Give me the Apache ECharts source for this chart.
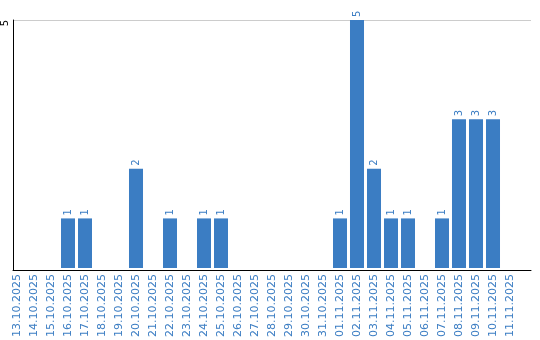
<!DOCTYPE html>
<html><head><meta charset="utf-8">
<script src="https://cdn.jsdelivr.net/npm/echarts@6/dist/echarts.min.js"></script>
<style>html,body{margin:0;padding:0;background:#fff}#c{width:540px;height:340px}</style>
</head><body><div id="c"></div>
<script>
var categories = ["13.10.2025","14.10.2025","15.10.2025","16.10.2025","17.10.2025","18.10.2025","19.10.2025","20.10.2025","21.10.2025","22.10.2025","23.10.2025","24.10.2025","25.10.2025","26.10.2025","27.10.2025","28.10.2025","29.10.2025","30.10.2025","31.10.2025","01.11.2025","02.11.2025","03.11.2025","04.11.2025","05.11.2025","06.11.2025","07.11.2025","08.11.2025","09.11.2025","10.11.2025","11.11.2025"];
var values = [null,null,null,1,1,null,null,2,null,1,null,1,1,null,null,null,null,null,null,1,5,2,1,1,null,1,3,3,3,null];
var yTicks = [0, 5];

var blue = '#3b7dc3';
var chart = echarts.init(document.getElementById('c'));
chart.setOption({
  animation: false,
  textStyle: {fontFamily: 'DejaVu Sans'},
  grid: [
    {left: 10, right: 9, top: 20, bottom: 70},
    {left: 8.5, width: 510, top: 20, bottom: 70}
  ],
  xAxis: [
    {gridIndex: 0, type: 'value', min: 0, max: 1, axisLine: {show: true, lineStyle: {color: '#000', width: 1}},
     axisTick: {show: false}, axisLabel: {show: false}, splitLine: {show: false}},
    {gridIndex: 1, type: 'category', data: categories, boundaryGap: true,
     axisLine: {show: false}, axisTick: {show: false},
     axisLabel: {rotate: 90, interval: 0, color: blue, fontSize: 11, margin: 6, fontFamily: 'DejaVu Sans'}}
  ],
  yAxis: [
    {gridIndex: 0, type: 'value', min: yTicks[0], max: yTicks[1], interval: 5,
     axisLine: {show: true, lineStyle: {color: '#000', width: 1}}, axisTick: {show: false},
     splitLine: {show: true, lineStyle: {color: '#cccccc', width: 1}},
     axisLabel: {showMinLabel: false, rotate: 90, align: 'right', verticalAlign: 'bottom',
                 color: '#000', fontSize: 10, margin: 3}},
    {gridIndex: 1, type: 'value', min: yTicks[0], max: yTicks[1], show: false, splitLine: {show: false}}
  ],
  series: [{
    type: 'bar', xAxisIndex: 1, yAxisIndex: 1, data: values,
    barCategoryGap: '17.6%',
    itemStyle: {color: blue},
    label: {show: true, position: 'top', rotate: 90, align: 'left', verticalAlign: 'middle',
            distance: 3, color: blue, fontSize: 10, fontFamily: 'DejaVu Sans'}
  }]
});
</script></body></html>
